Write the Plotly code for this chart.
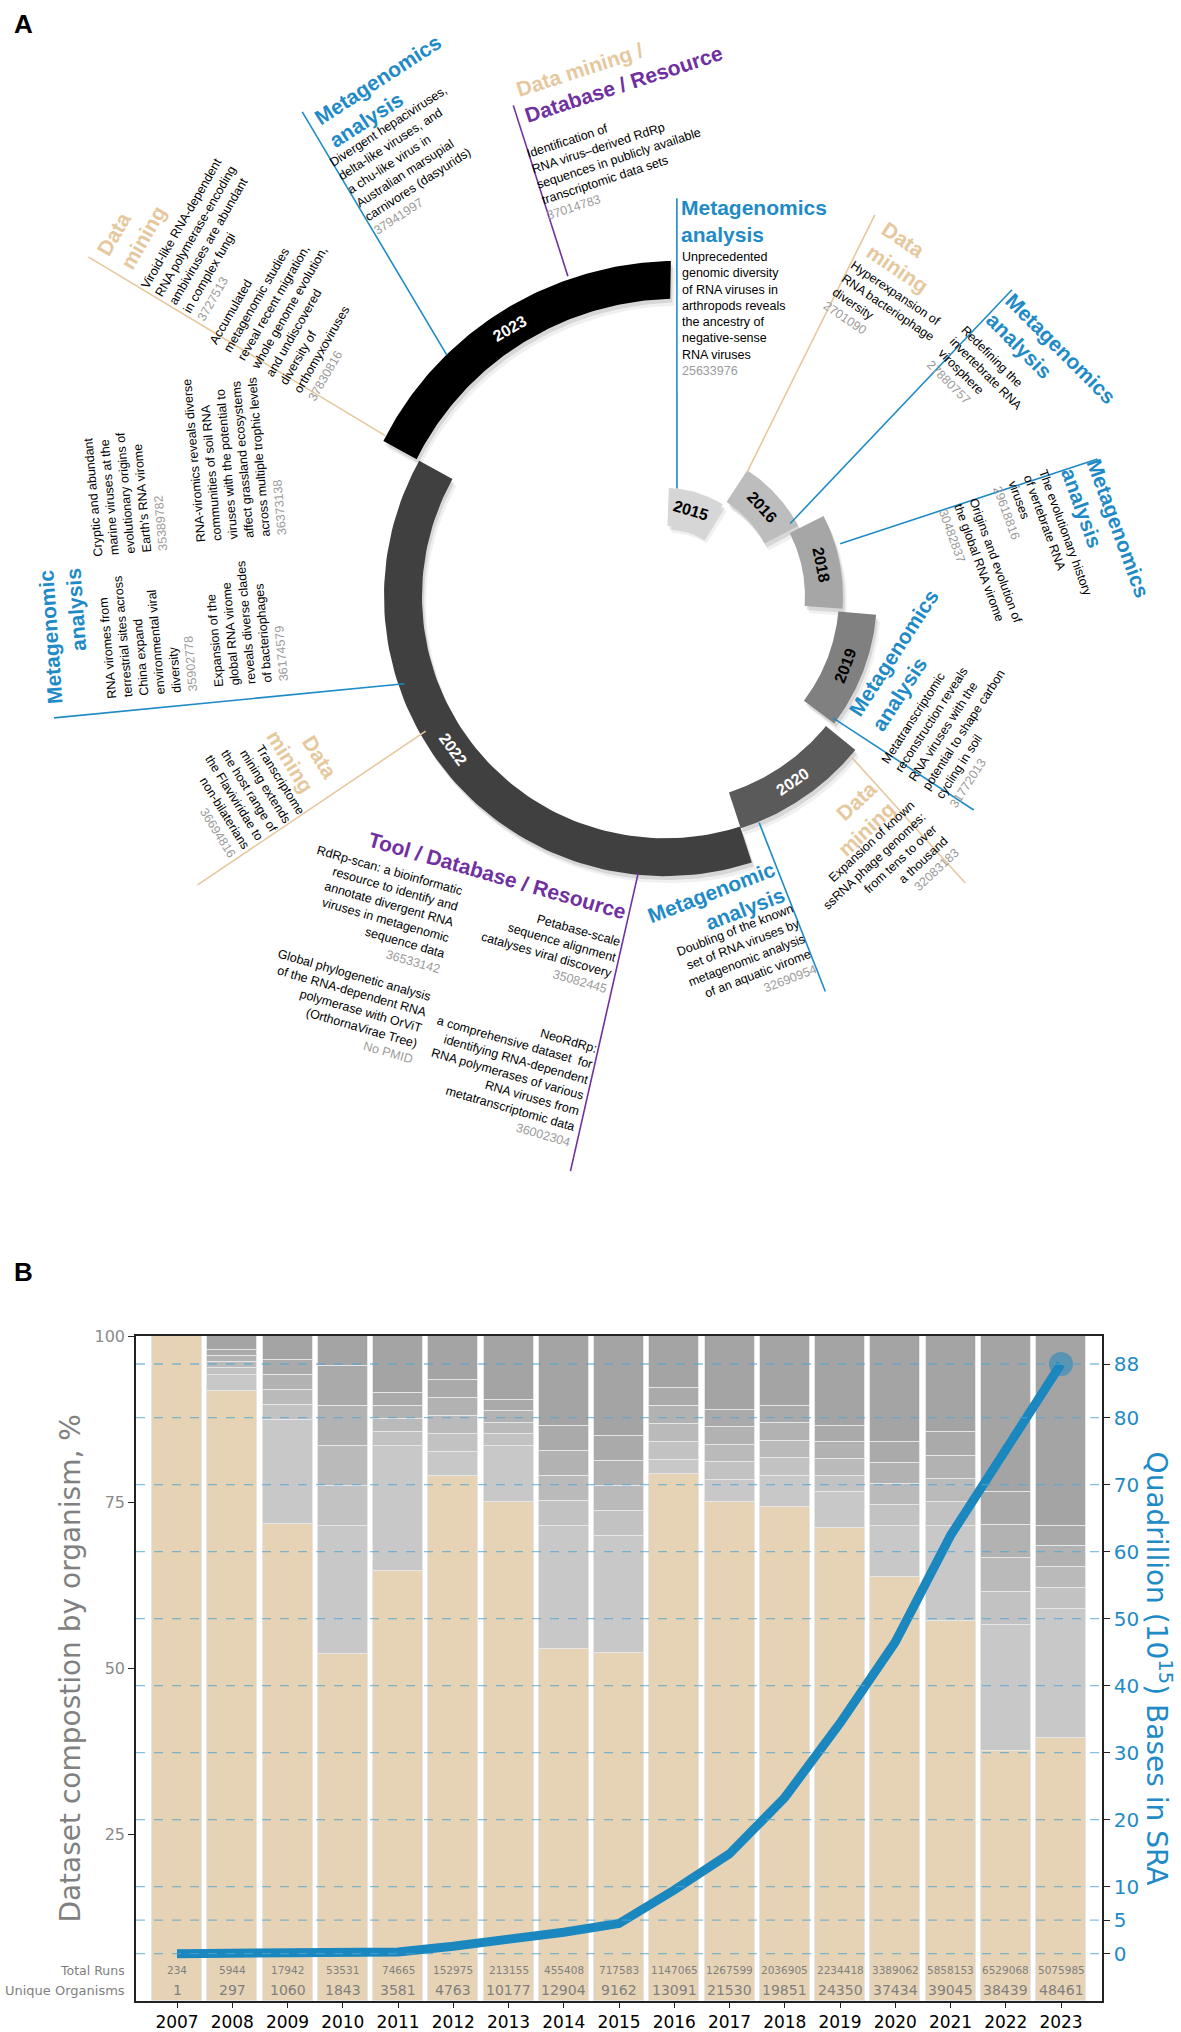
import numpy as np
import plotly.graph_objects as go

W, H = 1181, 2032

# ---------------- panel B data ----------------
years = list(range(2007, 2024))
top_org_pct = [100, 91.8, 71.7, 52.2, 64.7, 78.9, 75.1, 53.0, 52.4,
               79.3, 75.1, 74.3, 71.1, 63.8, 57.2, 37.6, 39.5]
light_grey_top = [100, 94.2, 87.4, 71.5, 83.5, 82.5, 83.5, 71.5, 70.0,
                  81.4, 78.4, 79.0, 76.5, 71.5, 71.5, 56.6, 59.0]
dark_grey_start = [100, 97.9, 96.4, 95.5, 91.5, 93.4, 90.4, 86.5, 85.0,
                   92.2, 88.9, 89.5, 86.5, 84.0, 85.5, 76.5, 71.5]
bases_quadrillion = [0.0, 0.01, 0.03, 0.07, 0.25, 1.1, 2.1, 3.2, 4.5,
                     9.5, 14.9, 23.3, 34.4, 46.5, 62.4, 75.3, 88.0]
total_runs = [234, 5944, 17942, 53531, 74665, 152975, 213155, 455408, 717583,
              1147065, 1267599, 2036905, 2234418, 3389062, 5858153, 6529068, 5075985]
unique_organisms = [1, 297, 1060, 1843, 3581, 4763, 10177, 12904, 9162,
                    13091, 21530, 19851, 24350, 37434, 39045, 38439, 48461]
left_ticks = [25, 50, 75, 100]
right_ticks = [0, 5, 10, 20, 30, 40, 50, 60, 70, 80, 88]

# ---------------- panel A data ----------------
ring_years = ["2015", "2016", "2018", "2019", "2020", "2022", "2023"]
ring_start = [88, 57, 27, -5, -39, -72, -209]
ring_end = [58, 28, -4, -37, -72, -209, -271]
ring_label_angle = [73, 42.5, 11.5, -21, -55.5, -144, -240]
ring_inner_start = [71, 113, 140, 174, 207, 243, 284]
ring_inner_end = [71, 113, 140, 174, 207, 243, 299]

lead_theta0 = [150.0, 132.0, 106.8, 83.7, 56.7, 30.3, 16.8, -36.0, -40.9, -67.5, -95.5, -150.5, -161.4]
lead_theta1 = [149.4, 126.7, 107.1, 88.3, 61.3, 41.6, 17.7, -34.8, -43.8, -68.0, -99.3, -148.2, -168.7]
lead_r0 = [323, 326, 336, 109, 150, 145, 183, 208, 247, 246, 279, 275, 275]
lead_r1 = [670, 607, 516, 400, 437, 464, 454, 376, 416, 428, 585, 550, 623]
lead_kind = ["dm", "mg", "db", "mg", "dm", "mg", "mg", "mg", "dm", "mg", "db", "dm", "mg"]

BLUE = "#1f8bc6"
BEIGE = "#e6c89e"
PURPLE = "#7030a0"
LINE_BLUE = "#1b87bf"
GREY_TXT = "#9b9b9b"
kind_color = {"mg": BLUE, "dm": BEIGE, "db": PURPLE}

# titles: text, x, y, angle, colour kind, align
titles = [
    ("Data<br>mining", 131, 223, -60, "dm", "left"),
    ("Metagenomics<br>analysis", 385, 82, -33, "mg", "left"),
    (f"<span style='color:{BEIGE}'>Data mining /</span><br>Database / Resource", 619, 62, -18, "db", "left"),
    ("Data<br>mining", 905, 249, 34, "dm", "left"),
    ("Metagenomics<br>analysis", 1051, 351, 45, "mg", "left"),
    ("Metagenomics<br>analysis", 1106, 526, 70, "mg", "left"),
    ("Metagenomics<br>analysis", 905, 654, -57, "mg", "left"),
    ("Data<br>mining", 857, 814, -43, "dm", "right"),
    ("Metagenomic<br>analysis", 716, 900, -21, "mg", "right"),
    ("Tool / Database / Resource", 497, 870, 16, "db", "right"),
    ("Data<br>mining", 302, 748, 58, "dm", "right"),
    ("Metagenomic<br>analysis", 64, 630, -94, "mg", "right"),
]

# paper blurbs: lines, pmid, x, y, angle, align
papers = [
    (["Viroid-like RNA-dependent", "RNA polymerase-encoding", "ambiviruses are abundant", "in complex fungi"],
     "3727513", 210, 232, -60, "left"),
    (["Accumulated", "metagenomic studies", "reveal recent migration,", "whole genome evolution,",
      "and undiscovered", "diversity of", "orthomyxoviruses"], "37830816", 296, 305, -60, "left"),
    (["Divergent hepaciviruses,", "delta-like viruses, and", "a chu-like virus in",
      "Australian marsupial", "carnivores (dasyurids)"], "37941997", 410, 152, -33, "left"),
    (["Identification of", "RNA virus\u2013derived RdRp", "sequences in publicly available",
      "transcriptomic data sets"], "37014783", 619, 150, -18, "left"),
    (["Hyperexpansion of", "RNA bacteriophage", "diversity"], "2701090", 883, 307, 34, "left"),
    (["Redefining the", "invertebrate RNA", "virosphere"], "27880757", 980, 372, 45, "left"),
    (["The evolutionary history", "of vertebrate RNA", "viruses"], "29618816", 1042, 534, 70, "left"),
    (["Origins and evolution of", "the global RNA virome"], "30482837", 980, 560, 70, "left"),
    (["Metatranscriptomic", "reconstruction reveals", "RNA viruses with the",
      "potential to shape carbon", "cycling in soil"], "31772013", 957, 720, -57, "left"),
    (["Expansion of known", "ssRNA phage genomes:", "from tens to over", "a thousand"],
     "32083183", 885, 868, -43, "right"),
    (["Doubling of the known", "set of RNA viruses by", "metagenomic analysis", "of an aquatic virome"],
     "32690954", 747, 956, -21, "right"),
    (["RdRp-scan: a bioinformatic", "resource to identify and", "annotate divergent RNA",
      "viruses in metagenomic", "sequence data"], "36533142", 378, 905, 16, "right"),
    (["Petabase-scale", "sequence alignment", "catalyses viral discovery"], "35082445", 549, 943, 16, "right"),
    (["Global phylogenetic analysis", "of the RNA-dependent RNA", "polymerase with OrViT",
      "(OrthornaVirae Tree)"], "No PMID", 345, 1002, 16, "right"),
    (["NeoRdRp:", "a comprehensive dataset  for", "identifying RNA-dependent",
      "RNA polymerases of various", "RNA viruses from", "metatranscriptomic data"],
     "36002304", 506, 1070, 16, "right"),
    (["Transcriptome", "mining extends", "the host range of", "the Flaviviridae to", "non-bilaterians"],
     "36694816", 241, 788, 58, "right"),
    (["RNA viromes from", "terrestrial sites across", "China expand", "environmental viral", "diversity"],
     "35902778", 147, 628, -95, "left"),
    (["Cryptic and abundant", "marine viruses at the", "evolutionary origins of", "Earth's RNA virome"],
     "35389782", 126, 486, -95, "left"),
    (["Expansion of the", "global RNA virome", "reveals diverse clades", "of bacteriophages"],
     "36174579", 246, 616, -95, "left"),
    (["RNA-viromics reveals diverse", "communities of soil RNA", "viruses with the potential to",
      "affect grassland ecosystems", "across multiple trophic levels"], "36373138", 234, 450, -95, "left"),
]
flat_title = "Metagenomics<br>analysis"
flat_paper = ["Unprecedented", "genomic diversity", "of RNA viruses in", "arthropods reveals",
              "the ancestry of", "negative-sense", "RNA viruses"]
flat_pmid = "25633976"

ARIAL = "Liberation Sans, Arial, sans-serif"
DEJAVU = "DejaVu Sans, sans-serif"

fig = go.Figure()

# ================= panel A =================
CX, CY = 665, 590
RING_W = 38
A_H = 1230
ring_fill = ["#d6d6d6", "#bdbdbd", "#a6a6a6", "#808080", "#5a5a5a", "#404040", "#000000"]
ring_text = ["black", "black", "black", "black", "white", "white", "white"]


def polar_xy(r, deg):
    t = np.radians(deg)
    return CX + r * np.cos(t), CY - r * np.sin(t)


annotations = []
for i, yr in enumerate(ring_years):
    ang = np.linspace(ring_start[i], ring_end[i], 90)
    rin = np.linspace(ring_inner_start[i], ring_inner_end[i], 90)
    xo, yo = polar_xy(rin + RING_W, ang)
    xi, yi = polar_xy(rin[::-1], ang[::-1])
    xs = np.concatenate([xo, xi, xo[:1]])
    ys = np.concatenate([yo, yi, yo[:1]])
    for dx, dy, a in [(4, 7, 0.06), (2, 4, 0.10)]:
        fig.add_trace(go.Scatter(x=xs + dx, y=ys + dy, mode="lines", fill="toself",
                                 fillcolor=f"rgba(0,0,0,{a})", line=dict(width=0, color="rgba(0,0,0,0)"),
                                 xaxis="x3", yaxis="y3", hoverinfo="skip", showlegend=False))
    fig.add_trace(go.Scatter(x=xs, y=ys, mode="lines", fill="toself", fillcolor=ring_fill[i],
                             line=dict(width=0, color=ring_fill[i]),
                             xaxis="x3", yaxis="y3", hoverinfo="skip", showlegend=False))
    am = ring_label_angle[i]
    frac = (ring_start[i] - am) / (ring_start[i] - ring_end[i])
    rm = ring_inner_start[i] + frac * (ring_inner_end[i] - ring_inner_start[i]) + RING_W / 2
    lx, ly = polar_xy(rm, am)
    ta = ((90 - am + 180) % 360) - 180
    if ta > 90:
        ta -= 180
    elif ta < -90:
        ta += 180
    annotations.append(dict(x=float(lx), y=float(ly), xref="x3", yref="y3", text=f"<b>{yr}</b>",
                            showarrow=False, textangle=ta, xanchor="center", yanchor="middle",
                            font=dict(family=ARIAL, size=16, color=ring_text[i])))

for i in range(len(lead_kind)):
    x0, y0 = polar_xy(lead_r0[i], lead_theta0[i])
    x1, y1 = polar_xy(lead_r1[i], lead_theta1[i])
    fig.add_trace(go.Scatter(x=[x0, x1], y=[y0, y1], mode="lines",
                             line=dict(color=kind_color[lead_kind[i]], width=1.6),
                             xaxis="x3", yaxis="y3", hoverinfo="skip", showlegend=False))

for text, x, y, ang, kind, align in titles:
    annotations.append(dict(x=x, y=y, xref="x3", yref="y3", text=f"<b>{text}</b>", showarrow=False,
                            textangle=ang, xanchor="center", yanchor="middle", align=align,
                            font=dict(family=ARIAL, size=21, color=kind_color[kind])))

for lines, pmid, x, y, ang, align in papers:
    txt = "<br>".join(lines) + f"<br><span style='color:{GREY_TXT}'>{pmid}</span>"
    annotations.append(dict(x=x, y=y, xref="x3", yref="y3", text=txt, showarrow=False,
                            textangle=ang, xanchor="center", yanchor="middle", align=align,
                            font=dict(family=ARIAL, size=12.5, color="black")))

annotations.append(dict(x=679, y=186, xref="x3", yref="y3", text=f"<b>{flat_title}</b>", showarrow=False,
                        xanchor="left", yanchor="top", align="left",
                        font=dict(family=ARIAL, size=21, color=BLUE)))
annotations.append(dict(x=680, y=240, xref="x3", yref="y3",
                        text="<br>".join(flat_paper) + f"<br><span style='color:{GREY_TXT}'>{flat_pmid}</span>",
                        showarrow=False, xanchor="left", yanchor="top", align="left",
                        font=dict(family=ARIAL, size=12.5, color="black")))

annotations.append(dict(x=23 / W, y=1 - 15 / H, xref="paper", yref="paper", text="<b>A</b>",
                        showarrow=False, xanchor="center", yanchor="middle",
                        font=dict(family=ARIAL, size=26, color="black")))

# ================= panel B =================
PX0, PX1, PY0, PY1 = 136, 1102, 1333, 2001
seg_light = [l - b for l, b in zip(light_grey_top, top_org_pct)]
seg_dark = [100 - d for d in dark_grey_start]
# the many minor organisms fade from light to dark grey: split that span into bands
fade_cols = ["#c2c2c2", "#bababa", "#b2b2b2", "#aaaaaa"]
seg_fade = [(d - l) / len(fade_cols) for d, l in zip(dark_grey_start, light_grey_top)]
stack = [(top_org_pct, "#e6d3b5"), (seg_light, "#c8c8c8")]
stack += [(seg_fade, c) for c in fade_cols]
stack += [(seg_dark, "#a4a4a4")]
for vals, col in stack:
    fig.add_trace(go.Bar(x=years, y=vals, width=0.905,
                         marker=dict(color=col, line=dict(color="#e6e6e6", width=1.2)),
                         xaxis="x", yaxis="y", hoverinfo="skip", showlegend=False))

fig.add_trace(go.Scatter(x=years, y=bases_quadrillion, mode="lines",
                         line=dict(color=LINE_BLUE, width=9, shape="linear"),
                         xaxis="x", yaxis="y2", hoverinfo="skip", showlegend=False))
fig.add_trace(go.Scatter(x=years[-1:], y=bases_quadrillion[-1:], mode="markers",
                         marker=dict(size=24, color="rgba(27,135,191,0.55)"),
                         xaxis="x", yaxis="y2", hoverinfo="skip", showlegend=False))

shapes = []
for v in right_ticks:
    shapes.append(dict(type="line", xref="x domain", yref="y2", x0=0, x1=1, y0=v, y1=v,
                       line=dict(color="rgba(80,165,210,0.7)", width=1.4, dash="dash"),
                       layer="above"))

annotations.append(dict(x=23 / W, y=1 - 1269 / H, xref="paper", yref="paper", text="<b>B</b>",
                        showarrow=False, xanchor="center", yanchor="middle",
                        font=dict(family=ARIAL, size=26, color="black")))

for yr, tr, uo in zip(years, total_runs, unique_organisms):
    annotations.append(dict(x=yr, y=1 - 1970 / H, xref="x", yref="paper", text=str(tr), showarrow=False,
                            xanchor="center", yanchor="middle",
                            font=dict(family=DEJAVU, size=10.5, color="#7f7f7f")))
    annotations.append(dict(x=yr, y=1 - 1990 / H, xref="x", yref="paper", text=str(uo), showarrow=False,
                            xanchor="center", yanchor="middle",
                            font=dict(family=DEJAVU, size=14, color="#7f7f7f")))
annotations.append(dict(x=127 / W, y=1 - 1970 / H, xref="paper", yref="paper", text="Total Runs",
                        showarrow=False, xanchor="right", yanchor="middle",
                        font=dict(family=DEJAVU, size=12.5, color="#7f7f7f")))
annotations.append(dict(x=127 / W, y=1 - 1990 / H, xref="paper", yref="paper", text="Unique Organisms",
                        showarrow=False, xanchor="right", yanchor="middle",
                        font=dict(family=DEJAVU, size=13, color="#7f7f7f")))
annotations.append(dict(x=71 / W, y=1 - 1667 / H, xref="paper", yref="paper",
                        text="Dataset compostion by organism, %", showarrow=False, textangle=-90,
                        xanchor="center", yanchor="middle",
                        font=dict(family=DEJAVU, size=28, color="#808080")))
annotations.append(dict(x=1158 / W, y=1 - 1667 / H, xref="paper", yref="paper",
                        text="Quadrillion (10<sup>15</sup>) Bases in SRA", showarrow=False, textangle=90,
                        xanchor="center", yanchor="middle",
                        font=dict(family=DEJAVU, size=28, color=BLUE)))

yr_step = 55.25
x_lo = years[0] - (177 - PX0) / yr_step
x_hi = years[-1] + (PX1 - 1061) / yr_step
r_per_px = 1 / 6.73
y2_top = (1953.3 - PY0) * r_per_px
y2_bot = -(PY1 - 1953.3) * r_per_px

fig.update_layout(
    width=W, height=H, margin=dict(l=0, r=0, t=0, b=0),
    paper_bgcolor="white", plot_bgcolor="white",
    barmode="stack", bargap=0,
    showlegend=False,
    xaxis=dict(domain=[PX0 / W, PX1 / W], range=[x_lo, x_hi], tickvals=years,
               ticks="outside", ticklen=5, tickcolor="#222", showline=True, linecolor="#222",
               linewidth=1.5, mirror=True, showgrid=False, zeroline=False,
               tickfont=dict(family=DEJAVU, size=17, color="black"), anchor="y"),
    yaxis=dict(domain=[1 - PY1 / H, 1 - PY0 / H], range=[0, 100], tickvals=left_ticks,
               ticks="outside", ticklen=6, tickcolor="#222", showline=True, linecolor="#222",
               linewidth=1.5, showgrid=False, zeroline=False,
               tickfont=dict(family=DEJAVU, size=16, color="#8a8a8a"), anchor="x"),
    yaxis2=dict(overlaying="y", side="right", range=[y2_bot, y2_top], tickvals=right_ticks,
                ticks="outside", ticklen=6, tickcolor="#222", showline=True, linecolor="#222",
                linewidth=1.5, showgrid=False, zeroline=False, anchor="x",
                tickfont=dict(family=DEJAVU, size=20, color=BLUE)),
    xaxis3=dict(domain=[0, 1], range=[0, W], visible=False, anchor="y3", fixedrange=True),
    yaxis3=dict(domain=[1 - A_H / H, 1], range=[A_H, 0], visible=False, anchor="x3", fixedrange=True),
    annotations=annotations,
    shapes=shapes,
)

fig.write_html("out.html", config={"displayModeBar": False},
               post_script="document.body.style.margin='0px';")
